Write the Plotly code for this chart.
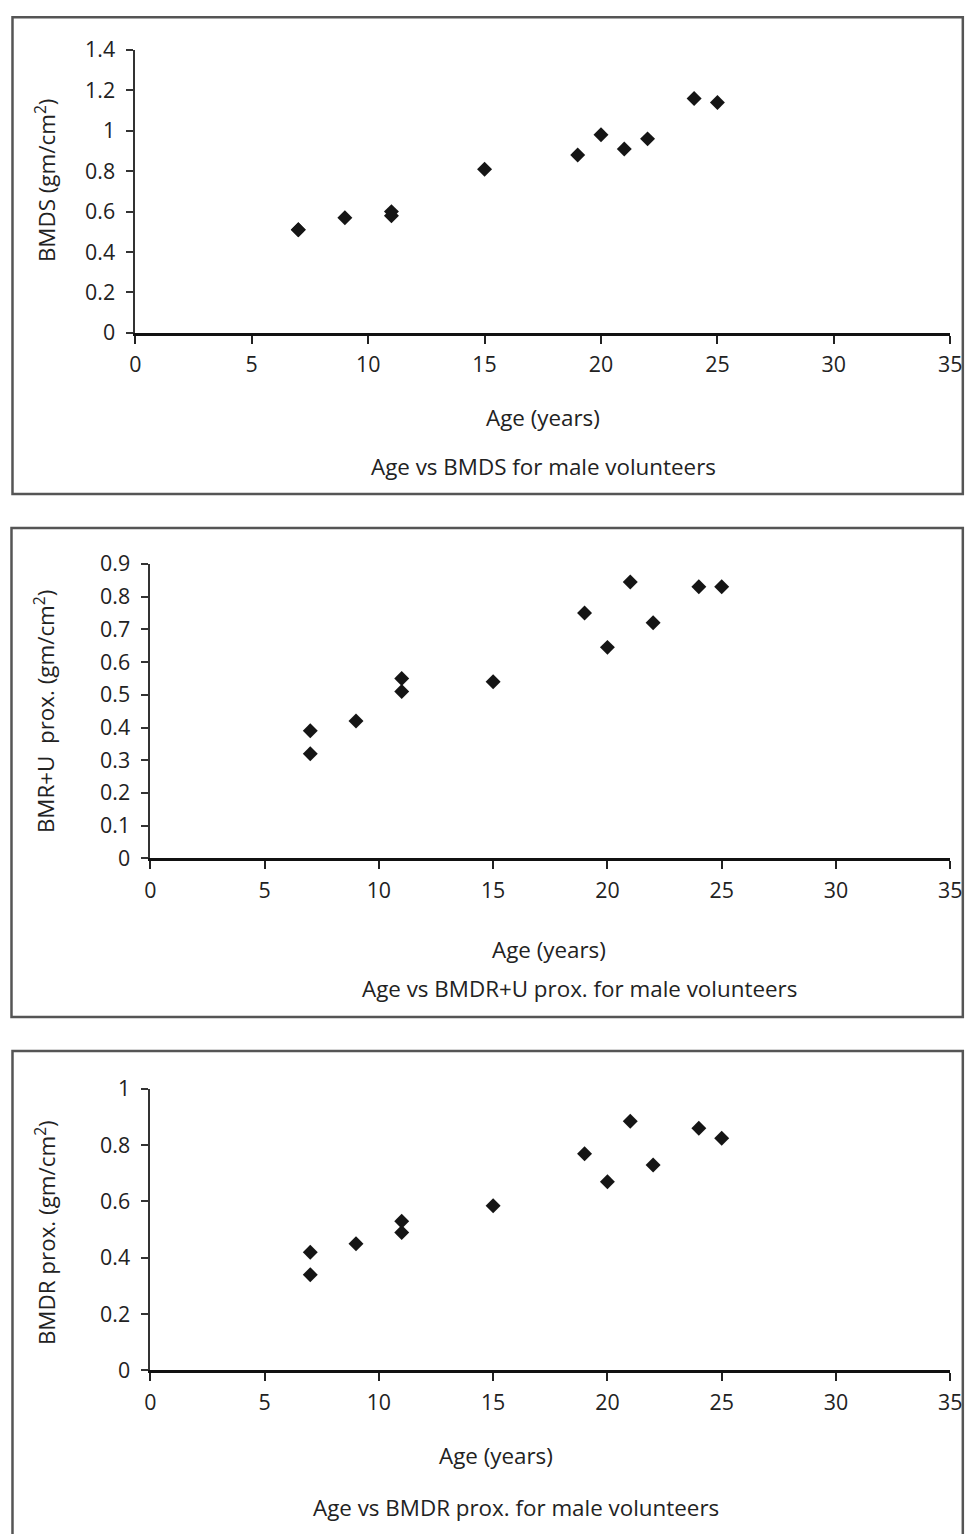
import plotly.graph_objects as go

W, H = 976, 1534

# ---------------- data ----------------
age = [7, 7, 9, 11, 11, 15, 19, 20, 21, 22, 24, 25]
bmds = [0.51, 0.51, 0.57, 0.58, 0.60, 0.81, 0.88, 0.98, 0.91, 0.96, 1.16, 1.14]
bmdr_u_prox = [0.39, 0.32, 0.42, 0.55, 0.51, 0.54, 0.75, 0.645, 0.845, 0.72, 0.83, 0.83]
bmdr_prox = [0.42, 0.34, 0.45, 0.53, 0.49, 0.585, 0.77, 0.67, 0.885, 0.73, 0.86, 0.825]

x_ticks = [0, 5, 10, 15, 20, 25, 30, 35]
y1_ticks = [0, 0.2, 0.4, 0.6, 0.8, 1, 1.2, 1.4]
y1_labels = ["0", "0.2", "0.4", "0.6", "0.8", "1", "1.2", "1.4"]
y2_ticks = [0, 0.1, 0.2, 0.3, 0.4, 0.5, 0.6, 0.7, 0.8, 0.9]
y2_labels = ["0", "0.1", "0.2", "0.3", "0.4", "0.5", "0.6", "0.7", "0.8", "0.9"]
y3_ticks = [0, 0.2, 0.4, 0.6, 0.8, 1]
y3_labels = ["0", "0.2", "0.4", "0.6", "0.8", "1"]

y_titles = ["BMDS (gm/cm<sup>2</sup>)",
            "BMR+U  prox. (gm/cm<sup>2</sup>)",
            "BMDR prox. (gm/cm<sup>2</sup>)"]
x_title = "Age (years)"
captions = ["Age vs BMDS for male volunteers",
            "Age vs BMDR+U prox. for male volunteers",
            "Age vs BMDR prox. for male volunteers"]

# ---------------- layout (target pixels in the photographed picture) ----------------
FONT = "Open Sans, Lato, DejaVu Sans, sans-serif"
# observed: the photographed page is scaled by S and shifted by (OX, OY)
S, OX, OY = 0.983, 5.5, 13.0
X_AXIS_MAX_PX = 962  # keep room so the last x tick label stays inside the figure

# plot areas: (x_left, x_right, y_top, y_bottom) in target px
areas = [(135, 960, 47, 330.5), (150, 957, 562, 857), (150, 957, 1088, 1370)]
yranges = [[0, 1.4], [0, 0.9], [0, 1.0]]
yticks = [(y1_ticks, y1_labels), (y2_ticks, y2_labels), (y3_ticks, y3_labels)]
series = [bmds, bmdr_u_prox, bmdr_prox]
ytitle_pos = [(45, 177), (44, 710), (45, 1232)]
xtitle_pos = [(543, 415), (549, 948), (496, 1455)]
caption_pos = [(544, 464), (580, 987), (516, 1507)]
boxes = [(12, 10, 973, 492), (11, 526, 973, 1016), (12, 1050, 974, 1545)]


def fx(x):
    return (x - OX) / S


def fy(y):
    return (y - OY) / S


def px(x, lim=W - 1.2):
    return min(max(fx(x), 1.2), lim) / W


def py(y):
    return 1 - min(max(fy(y), 1.2), H + 15) / H


def fs(size):
    return size / S


fig = go.Figure()
annotations = []
shapes = []
for i in range(3):
    n = "" if i == 0 else str(i + 1)
    xl, xr, yt, yb = areas[i]
    fig.add_trace(go.Scatter(
        x=age, y=series[i], mode="markers",
        marker=dict(symbol="diamond", size=11.5, color="#151515",
                    line=dict(width=0)),
        xaxis="x" + n, yaxis="y" + n, showlegend=False, cliponaxis=False))
    fig.update_layout(**{
        "xaxis" + n: dict(
            domain=[px(xl), px(xr, X_AXIS_MAX_PX)], range=[0, 35], anchor="y" + n,
            tickvals=x_ticks, ticks="outside", ticklen=8, tickwidth=1.5,
            tickcolor="#222", showline=True, linecolor="#111", linewidth=2.5,
            showgrid=False, zeroline=False, ticklabelstandoff=3,
            tickfont=dict(family=FONT, size=fs(21), color="#222"), fixedrange=True),
        "yaxis" + n: dict(
            domain=[py(yb), py(yt)], range=yranges[i], anchor="x" + n,
            tickvals=yticks[i][0], ticktext=yticks[i][1],
            ticks="outside", ticklen=7, tickwidth=1.5, tickcolor="#333",
            showline=True, linecolor="#333", linewidth=1.8,
            showgrid=False, zeroline=False, ticklabelstandoff=7,
            tickfont=dict(family=FONT, size=fs(21), color="#222"), fixedrange=True),
    })
    tx, ty = ytitle_pos[i]
    annotations.append(dict(text=y_titles[i], x=px(tx), y=py(ty), xref="paper",
                            yref="paper", showarrow=False, textangle=-90,
                            xanchor="center", yanchor="middle",
                            font=dict(family=FONT, size=fs(22), color="#222")))
    tx, ty = xtitle_pos[i]
    annotations.append(dict(text=x_title, x=px(tx), y=py(ty), xref="paper",
                            yref="paper", showarrow=False,
                            xanchor="center", yanchor="middle",
                            font=dict(family=FONT, size=fs(22), color="#222")))
    tx, ty = caption_pos[i]
    annotations.append(dict(text=captions[i], x=px(tx), y=py(ty), xref="paper",
                            yref="paper", showarrow=False,
                            xanchor="center", yanchor="middle",
                            font=dict(family=FONT, size=fs(22), color="#222")))
    bx0, by0, bx1, by1 = boxes[i]
    shapes.append(dict(type="rect", xref="paper", yref="paper",
                       x0=px(bx0), x1=px(bx1), y0=py(by1), y1=py(by0),
                       line=dict(color="#555", width=2.5), layer="below"))

fig.update_layout(width=W, height=H, margin=dict(l=0, r=0, t=0, b=0),
                  paper_bgcolor="white", plot_bgcolor="white",
                  annotations=annotations, shapes=shapes)

fig.write_html("out.html")
